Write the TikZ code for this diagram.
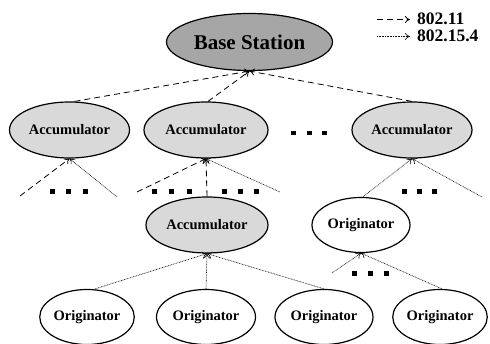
\documentclass[tikz,border=0pt]{standalone}
\usepackage{fontspec}
\setmainfont{Liberation Serif}
\usetikzlibrary{shapes.geometric,arrows.meta}
\definecolor{bsgray}{RGB}{166,166,166}
\definecolor{accgray}{RGB}{217,217,217}
\begin{document}
\begin{tikzpicture}[x=1pt,y=-1pt,
  ell/.style={ellipse,draw,line width=1.2pt,inner sep=0pt,font=\bfseries\fontsize{14.5}{16}\selectfont},
  acc/.style={ell,fill=accgray,minimum width=120pt,minimum height=56pt},
  orig/.style={ell,fill=white,minimum width=96pt,minimum height=55pt},
  wifi/.style={line width=0.8pt,dash pattern=on 6pt off 4pt,-{To[length=5pt,width=7pt]}},
  zig/.style={line width=0.6pt,dash pattern=on 0.8pt off 0.8pt,-{To[length=5pt,width=7pt]}},
  legtxt/.style={anchor=west,inner sep=0pt,font=\bfseries\fontsize{17.5}{19}\selectfont},
  sq/.style={fill=black}]
\useasboundingbox (0,0) rectangle (490,344);
% nodes
\node[ell,fill=bsgray,minimum width=166pt,minimum height=57pt,font=\bfseries\fontsize{21}{24}\selectfont] (bs) at (249.5,42) {Base Station};
\node[acc] (a1) at (69.5,130) {Accumulator};
\node[acc,minimum width=124pt] (a2) at (206,130) {Accumulator};
\node[acc] (a3) at (412,130) {Accumulator};
\node[acc,minimum width=122pt] (a4) at (207,225) {Accumulator};
\node[orig,minimum width=98pt] (o0) at (361,225) {Originator};
\node[orig,minimum width=87pt] (o1) at (87,317) {Originator};
\node[orig,minimum width=99pt] (o2) at (206,317) {Originator};
\node[orig,minimum width=98pt] (o3) at (324,317) {Originator};
\node[orig,minimum width=94pt] (o4) at (440,317) {Originator};
% free ends
\coordinate (f1) at (20,196);
\coordinate (f2) at (117,197);
\coordinate (f3) at (137,192);
\coordinate (f4) at (280,192);
\coordinate (f5) at (482,197);
\coordinate (f6) at (332,273);
% connectors to base station
\draw[wifi] (a1.north) ++(5,0) -- (bs.south);
\draw[wifi] (a2.north) ++(2,0) -- (bs.south);
\draw[wifi] (a3.north) -- (bs.south);
% to accumulators row 1
\draw[wifi] (f1) -- (a1.south);
\draw[zig] (f2) -- (a1.south);
\draw[wifi] (f3) -- (a2.south);
\draw[zig] (f4) -- (a2.south);
\draw[wifi] (a4.north) -- (a2.south);
\draw[zig] (o0.north) ++(2,0) -- (a3.south);
\draw[zig] (f5) -- (a3.south);
% lower
\draw[zig] (o1.north) ++(8,0) -- (a4.south);
\draw[zig] (o2.north) -- (a4.south);
\draw[zig] (o3.north) -- (a4.south);
\draw[zig] (f6) -- (o0.south);
\draw[zig] (o4.north) ++(2,0) -- (o0.south);
% ellipsis squares
\foreach \x in {291,307,322} \fill[sq] (\x,131) rectangle ++(4.5,4.5);
\foreach \x in {50,66,83,152,169,187,222,238,254,402,417,432} \fill[sq] (\x,189.5) rectangle ++(4.5,4.5);
\foreach \x in {352,368,384} \fill[sq] (\x,271.5) rectangle ++(4.5,4.5);
% legend
\coordinate (l1a) at (377,19.5);
\coordinate (l1b) at (410,19.5);
\coordinate (l2a) at (377,36.5);
\coordinate (l2b) at (410,36.5);
\draw[wifi] (l1a) -- (l1b);
\draw[zig] (l2a) -- (l2b);
\node[legtxt] (t1) at (417,19) {802.11};
\node[legtxt] (t2) at (417,36) {802.15.4};
\end{tikzpicture}
\end{document}
